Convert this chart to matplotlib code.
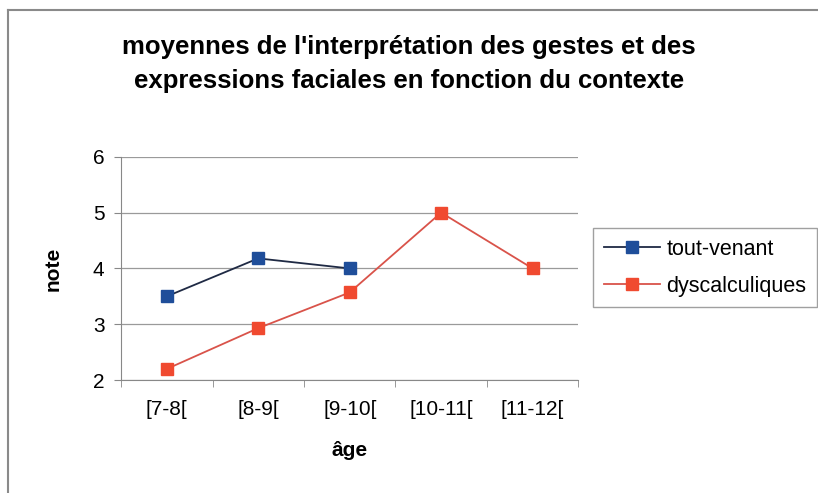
import numpy as np
import matplotlib.pyplot as plt
from matplotlib.lines import Line2D

plt.rcParams['font.family'] = ['Liberation Sans', 'DejaVu Sans']

# data
ages = ['[7-8[', '[8-9[', '[9-10[', '[10-11[', '[11-12[']
tout_venant = [3.5, 4.18, 4.0]
dyscalculiques = [2.2, 2.93, 3.57, 5.0, 4.0]

fig = plt.figure(figsize=(8.18, 4.93), dpi=100)
# chart frame: only top and left edges are visible in the scan
fig.lines.append(Line2D([0.01, 0.01], [0, 0.98], transform=fig.transFigure,
                        color='#8a8a8a', lw=1.5))
fig.lines.append(Line2D([0.01, 1.0], [0.98, 0.98], transform=fig.transFigure,
                        color='#8a8a8a', lw=1.5))
ax = fig.add_axes([0.148, 0.229, 0.559, 0.453])

x = np.arange(len(ages))
ax.plot(x[:len(tout_venant)], tout_venant, '-s', color='#1f2a44', mfc='#1f4e9a',
        mec='#1f4e9a', ms=9, lw=1.3, label='tout-venant')
ax.plot(x, dyscalculiques, '-s', color='#d9534a', mfc='#f04a30', mec='#f04a30',
        ms=9, lw=1.3, label='dyscalculiques')

ax.set_xlim(-0.5, len(ages) - 0.5)
ax.set_ylim(2, 6)
ax.set_yticks([2, 3, 4, 5, 6])
ax.set_xticks(x)
ax.set_xticklabels(ages)
ax.set_xticks(np.arange(-0.5, len(ages)), minor=True)
ax.tick_params(axis='x', which='major', length=0, pad=14, labelsize=15)
ax.tick_params(axis='x', which='minor', length=5, color='#888888', direction='out')
ax.tick_params(axis='y', length=5, color='#888888', labelsize=15, pad=7)
ax.grid(axis='y', color='#9a9a9a', lw=0.9)
ax.set_axisbelow(True)
for s in ['top', 'right']:
    ax.spines[s].set_visible(False)
for s in ['left', 'bottom']:
    ax.spines[s].set_color('#888888')

ax.set_xlabel('âge', fontweight='bold', fontsize=15, labelpad=16)
ax.set_ylabel('note', fontweight='bold', fontsize=15, labelpad=22)

fig.text(0.5, 0.87, "moyennes de l'interprétation des gestes et des\nexpressions faciales en fonction du contexte",
         ha='center', va='center', fontsize=18.5, fontweight='bold', linespacing=1.5)

leg = fig.legend(loc='upper left', bbox_to_anchor=(0.725, 0.538), frameon=True,
                 fancybox=False, edgecolor='#888888', fontsize=15.5,
                 handlelength=2.6, handletextpad=0.3, borderpad=0.5,
                 labelspacing=0.75, borderaxespad=0)
leg.get_frame().set_linewidth(1.0)

fig.savefig('out.png', dpi=100)
